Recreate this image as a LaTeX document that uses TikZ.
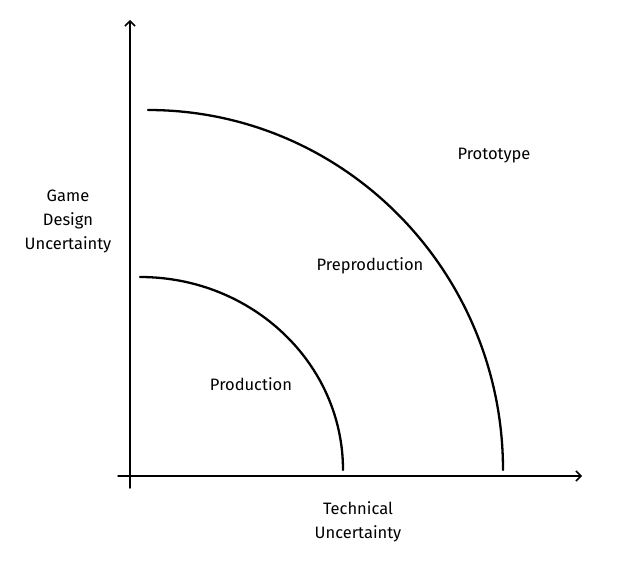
\documentclass[tikz,border=0pt]{standalone}
\usepackage{fontspec}
\setmainfont{Fira Sans}
\usepackage{tikz}
\usetikzlibrary{arrows.meta}

\begin{document}
\begin{tikzpicture}[x=1pt, y=1pt, line cap=round,
    axis/.style={line width=1.5pt, -{Straight Barb[length=5pt, width=10pt]}},
    curve/.style={line width=2.3pt},
    label/.style={font=\fontsize{16.5}{24}\selectfont, align=center}]
    \useasboundingbox (0,0) rectangle (619,566);
    % Axes
    \coordinate (ybottom) at (130,78);
    \coordinate (ytop) at (130,546);
    \coordinate (xleft) at (118,90);
    \coordinate (xright) at (582,90);
    \draw[axis] (ybottom) -- (ytop);
    \draw[axis] (xleft) -- (xright);

    % Arcs
    \coordinate (outerstart) at (148,456);
    \coordinate (innerstart) at (140,289);
    \draw[curve] (outerstart) arc[start angle=90, end angle=0, x radius=355, y radius=360];
    \draw[curve] (innerstart) arc[start angle=90, end angle=0, x radius=203, y radius=193];

    % Labels
    \node[label] (ylabel) at (68,345) {Game\\Design\\Uncertainty};
    \node[label] (xlabel) at (358,44) {Technical\\Uncertainty};
    \node[label] (prototype) at (494,410) {Prototype};
    \node[label] (preproduction) at (370,300) {Preproduction};
    \node[label] (production) at (251,182) {Production};
\end{tikzpicture}
\end{document}
